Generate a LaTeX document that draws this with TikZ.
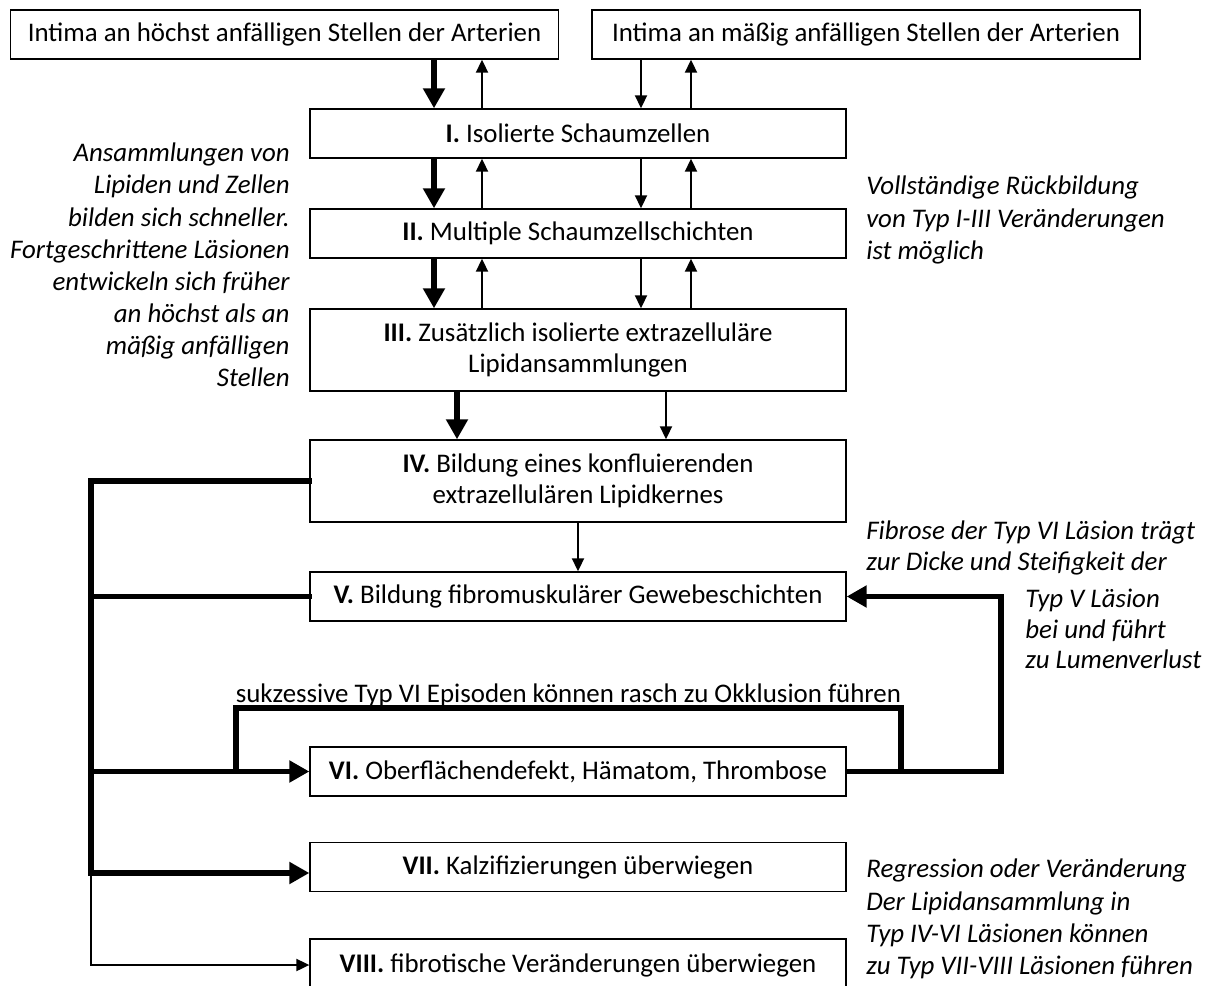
\documentclass[tikz,border=0pt]{standalone}
\usepackage{fontspec}
\setmainfont{Carlito}
\usepackage{tikz}
\usetikzlibrary{calc,arrows.meta}
\usetikzlibrary{positioning}

\tikzset{
  txt/.style={font=\fontsize{15.3}{17.6}\selectfont},
  stage/.style={txt, draw, line width=0.8pt, minimum width=10.72cm, minimum height=0.98cm, align=center, inner sep=2pt},
  tallstage/.style={stage, minimum height=1.64cm},
  note/.style={font=\fontsize{15.3}{18.3}\selectfont\itshape, inner sep=0pt},
  fat/.style={line width=3.1pt, -{Triangle[length=0.4cm, width=0.42cm]}},
  fatline/.style={line width=3.1pt, line cap=rect},
  slim/.style={line width=1.1pt, -{Triangle[length=0.26cm, width=0.24cm]}}
}

\begin{document}
\begin{tikzpicture}[x=0.02cm, y=-0.02cm]
            \useasboundingbox (0, 0) rectangle (1213, 986);

            \node[stage, minimum width=10.96cm] (top1) at (284.5, 34.5) {Intima an höchst anfälligen Stellen der Arterien};
            \node[stage, minimum width=10.96cm] (top2) at (866, 34.5) {Intima an mäßig anfälligen Stellen der Arterien};
            \node[stage] (I) at (578, 133.5) {\textbf{I.} Isolierte Schaumzellen};
            \node[stage] (II) at (578, 233.5) {\textbf{II.} Multiple Schaumzellschichten};
            \node[tallstage] (III) at (578, 350) {\textbf{III.} Zusätzlich isolierte extrazelluläre\\Lipidansammlungen};
            \node[tallstage] (IV) at (578, 481) {\textbf{IV.} Bildung eines konfluierenden\\extrazellulären Lipidkernes};
            \node[stage] (V) at (578, 596.5) {\textbf{V.} Bildung fibromuskulärer Gewebeschichten};
            \node[stage] (VI) at (578, 771.5) {\textbf{VI.} Oberflächendefekt, Hämatom, Thrombose};
            \node[stage] (VII) at (578, 867) {\textbf{VII.} Kalzifizierungen überwiegen};
            \node[stage, minimum height=1.04cm] (VIII) at (578, 965) {\textbf{VIII.} fibrotische Veränderungen überwiegen};

            \node[note, align=right, anchor=east] (noteLeft) at (290, 265) {Ansammlungen von\\Lipiden und Zellen\\bilden sich schneller.\\Fortgeschrittene Läsionen\\entwickeln sich früher\\an höchst als an\\mäßig anfälligen\\Stellen};
            \node[note, align=left, anchor=west] (noteRegress) at (866, 220) {Vollständige Rückbildung\\von Typ I-III Veränderungen\\ist möglich};
            \node[note, font=\fontsize{15.3}{17.2}\selectfont\itshape, align=left, anchor=west] (noteFib) at (866, 548) {Fibrose der Typ VI Läsion trägt\\zur Dicke und Steifigkeit der};
            \node[note, font=\fontsize{15.3}{17.2}\selectfont\itshape, align=left, anchor=west] (noteLumen) at (1025, 629) {Typ V Läsion\\bei und führt\\zu Lumenverlust};
            \node[note, align=left, anchor=west] (noteLate) at (866, 919) {Regression oder Veränderung\\Der Lipidansammlung in\\Typ IV-VI Läsionen können\\zu Typ VII-VIII Läsionen führen};

            \coordinate (colA) at (434, 0);
            \coordinate (colB) at (482, 0);
            \coordinate (colC) at (641, 0);
            \coordinate (colD) at (691, 0);
            \coordinate (colE) at (457, 0);
            \coordinate (colF) at (666, 0);
            \coordinate (bus) at (91, 0);
            \coordinate (loopL) at (236, 708);
            \coordinate (loopR) at (901, 708);
            \coordinate (rise) at (1001, 0);

            \foreach \a/\b/\c in {top1/top2/I, I/I/II, II/II/III} {
              \draw[fat] (\a.south -| colA) -- (\c.north -| colA);
              \draw[slim] (\c.north -| colB) -- (\a.south -| colB);
              \draw[slim] (\b.south -| colC) -- (\c.north -| colC);
              \draw[slim] (\c.north -| colD) -- (\b.south -| colD);
            }
            \draw[fat] (III.south -| colE) -- (IV.north -| colE);
            \draw[slim] (III.south -| colF) -- (IV.north -| colF);
            \draw[slim] (IV.south) -- (V.north);

            \draw[fatline] (IV.west) -| ([yshift=-0.12cm]bus |- VII.west);
            \draw[fatline] (V.west) -- (bus |- V.west);
            \draw[fat] (bus |- VI.west) -- (VI.west);
            \draw[fat] ([yshift=-0.12cm]bus |- VII.west) -- ([yshift=-0.12cm]VII.west);
            \draw[slim] ([yshift=-0.12cm]bus |- VII.west) |- (VIII.west);

            \draw[fatline] (loopL |- VI.west) -- (loopL) -- (loopR) -- (loopR |- VI.east);
            \node[txt, anchor=south, inner sep=0.5pt] (lblOcc) at ($(loopL)!0.5!(loopR)$) {sukzessive Typ VI Episoden können rasch zu Okklusion führen};
            \draw[fat, line join=miter] (VI.east) -| (rise |- V.east) -- (V.east);
\end{tikzpicture}
\end{document}
